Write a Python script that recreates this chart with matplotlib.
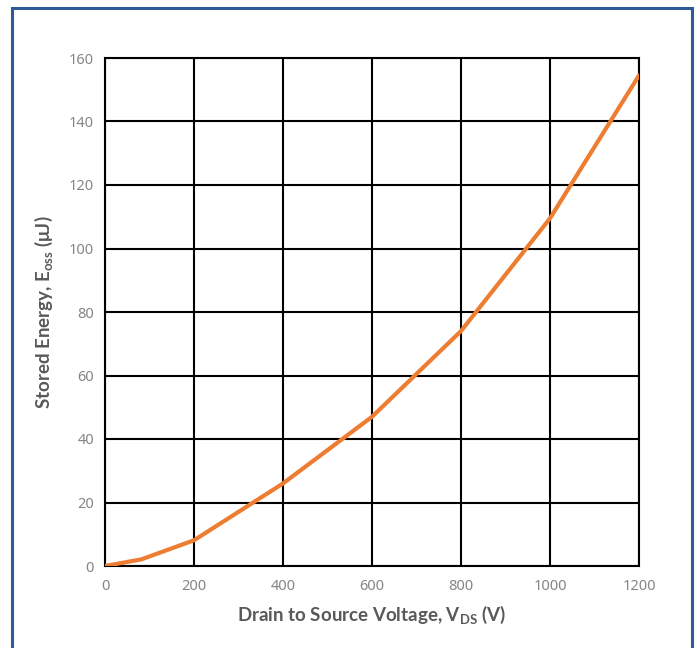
import matplotlib.pyplot as plt
from matplotlib.patches import Rectangle

plt.rcParams['font.family'] = ['Noto Sans', 'DejaVu Sans']
plt.rcParams['mathtext.fontset'] = 'custom'
plt.rcParams['mathtext.rm'] = 'Lato'

# values
vds = [0, 82, 200, 400, 600, 800, 1000, 1200]
eoss = [0, 2.1, 8.1, 26.0, 47.0, 74.0, 109.5, 154.5]

x_ticks = [0, 200, 400, 600, 800, 1000, 1200]
y_ticks = [0, 20, 40, 60, 80, 100, 120, 140, 160]

fig = plt.figure(figsize=(6.99, 6.48), dpi=100)
ax = fig.add_axes([105 / 699, 1 - 566 / 648, 534 / 699, 508 / 648])

ax.plot(vds, eoss, color='#ED7D31', linewidth=3, solid_capstyle='round', zorder=3)

ax.set_xlim(0, 1200)
ax.set_ylim(0, 160)
ax.set_xticks(x_ticks)
ax.set_yticks(y_ticks)
ax.grid(True, color='black', linewidth=1.5)
for s in ax.spines.values():
    s.set_color('black')
    s.set_linewidth(1.5)
ax.tick_params(length=0, labelsize=10.5, labelcolor='#858585')
ax.tick_params(axis='x', pad=9)
ax.tick_params(axis='y', pad=8)

label_font = dict(family=['Lato', 'DejaVu Sans'], fontsize=13.5,
                  fontweight='bold', color='#595959')
ax.set_xlabel(r'Drain to Source Voltage, V$_\mathregular{DS}$ (V)',
              labelpad=7, **label_font)
ax.set_ylabel(r'Stored Energy, E$_\mathregular{oss}$ (μJ)',
              labelpad=10, **label_font)

# blue frame around the chart (bottom edge runs off the image)
fig.patches.append(Rectangle((11.5 / 699, -0.05), 680 / 699, 1.05 - 7.5 / 648,
                             transform=fig.transFigure, fill=False,
                             edgecolor='#2E5B98', linewidth=2.2))

fig.savefig('out.png', dpi=100)
